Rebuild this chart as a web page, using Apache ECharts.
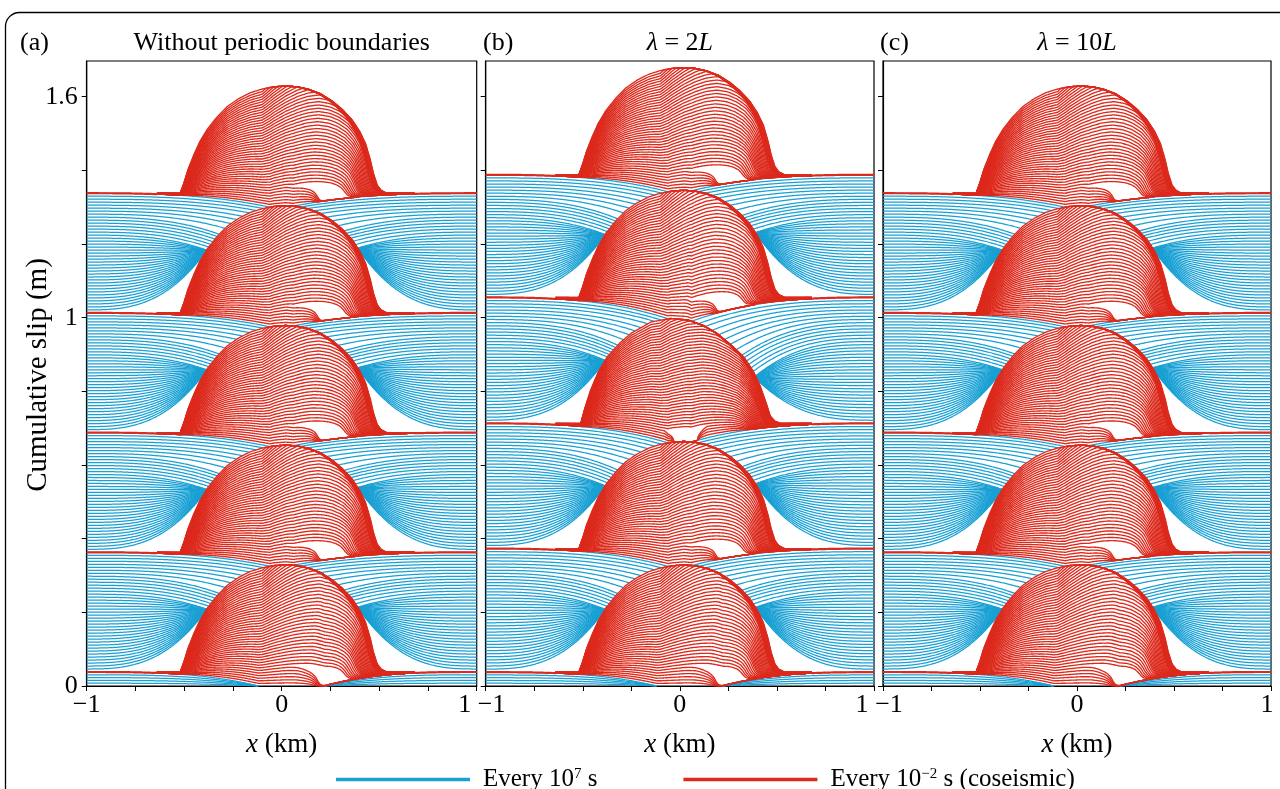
<!DOCTYPE html>
<html><head><meta charset="utf-8">
<script src="https://cdn.jsdelivr.net/npm/echarts@6/dist/echarts.min.js"></script>
<style>html,body{margin:0;padding:0;background:#fff;}#c{width:1280px;height:789px;}</style>
</head><body><div id="c"></div>
<script>
// ---------------- values ----------------
const panelTags = ['(a)', '(b)', '(c)'];
const panelTitles = ['Without periodic boundaries', '{i|λ} = 2{i|L}', '{i|λ} = 10{i|L}'];
const xTickValues = [-1, -0.75, -0.5, -0.25, 0, 0.25, 0.5, 0.75, 1];
const xLabelValues = [-1, 0, 1];
const yTickValues = [0, 0.2, 0.4, 0.6, 0.8, 1.0, 1.2, 1.4, 1.6];
const yLabelValues = [0, 1, 1.6];
// slip (m) of the creeping edges at each earthquake
const levelsA = [0.038, 0.363, 0.688, 1.013, 1.338];
const levelsB = [0.0375, 0.373, 0.713, 1.055, 1.388];
const levelsC = [0.038, 0.363, 0.688, 1.013, 1.338];
// which rupture type each event is
const eventsA = ['std', 'std', 'std', 'std', 'std'];
const eventsB = ['std', 'std', 'sym', 'std', 'std'];
const eventsC = ['std', 'std', 'std', 'std', 'std'];
// final coseismic slip above the edge level (m), along x (km)
const domeStdX = [-0.60,-0.52,-0.50,-0.48,-0.45,-0.42,-0.38,-0.33,-0.28,-0.22,-0.16,-0.10,-0.04,0.02,0.08,0.14,0.20,0.26,0.31,0.36,0.40,0.43,0.455,0.47,0.49,0.51,0.54,0.60];
const domeStdH = [0,0,0.03,0.065,0.105,0.14,0.175,0.208,0.235,0.257,0.273,0.283,0.289,0.291,0.289,0.282,0.27,0.25,0.228,0.2,0.168,0.135,0.09,0.055,0.022,0.008,0,0];
const domeSymX = [-0.60,-0.51,-0.49,-0.46,-0.42,-0.375,-0.31,-0.25,-0.15,-0.05,0.04,0.12,0.19,0.26,0.33,0.38,0.415,0.445,0.466,0.49,0.52,0.60];
const domeSymH = [0,0,0.04,0.09,0.14,0.18,0.218,0.245,0.275,0.285,0.281,0.266,0.245,0.215,0.18,0.14,0.10,0.055,0.02,0.006,0,0];
// position (km) of the right rupture front through each event (t = fraction of the event)
const frontStdT = [0, 0.15, 0.151, 0.3, 0.6, 1.0];
const frontStdX = [0.18, 0.21, 0.36, 0.42, 0.49, 0.52];
const frontSymT = [0, 0.5, 1.0];
const frontSymX = [0.36, 0.46, 0.50];
// other rupture settings per type: pivot of the front, flank foot, early completion of the right side, central gap (sym)
const ruptStd = { pivot: 0.0, flank: 0.52, early: 0.6, gateT: 0, gateX: 0, gateW: 0 };
const ruptSym = { pivot: 0.1, flank: 0.50, early: 0.4, gateT: 0.1, gateX: 0.03, gateW: 0.06 };
// where interseismic lines meet the locked patch (fraction of cycle)
const contactF = [0, 0.65, 0.8, 0.9, 1.0];
const contactL = [-0.39, -0.385, -0.32, -0.2, -0.06];
const contactR = [0.40, 0.39, 0.32, 0.2, 0.06];
const initContactL = -0.12, initContactR = 0.22;
const nBlue = 40, nRed = 45, nInit = 5;

// ---------------- helpers ----------------
function lookup(xa, ya, x) {
  const n = xa.length;
  if (x <= xa[0]) return ya[0];
  if (x >= xa[n - 1]) return ya[n - 1];
  let i = 1; while (xa[i] < x) i++;
  const t = (x - xa[i - 1]) / (xa[i] - xa[i - 1]);
  return ya[i - 1] + t * (ya[i] - ya[i - 1]);
}
const types = {
  std: Object.assign({ x: domeStdX, h: domeStdH, ft: frontStdT, fx: frontStdX }, ruptStd),
  sym: Object.assign({ x: domeSymX, h: domeSymH, ft: frontSymT, fx: frontSymX }, ruptSym)
};
const STEP = 0.005;
function range(a, b) { const r = []; const n = Math.round((b - a) / STEP); for (let i = 0; i <= n; i++) r.push(a + i * STEP); return r; }
const xAll = range(-1, 1);

function interProfile(x, f, c) {
  const E = c.E0 + f * (c.E1 - c.E0);
  if (x <= c.xcL) {
    const u = (x + 1) / (c.xcL + 1);
    const C = c.F(c.xcL);
    return Math.max(E + (C - E) * Math.pow(u, c.p), c.F(x));
  } else if (x >= c.xcR) {
    const u = (1 - x) / (1 - c.xcR);
    const C = c.F(c.xcR);
    return Math.max(E + (C - E) * Math.pow(u, c.p), c.F(x));
  }
  return c.F(x);
}

function buildPanel(levels, events) {
  const blue = [], red = [], redEdge = [];
  const Ffun = events.map((name, k) => (x => levels[k] + lookup(types[name].x, types[name].h, x)));
  const cycleCtx = (k, f) => {
    if (k < 0) return { F: () => 0, E0: 0, E1: levels[0], xcL: initContactL, xcR: initContactR, p: 3 };
    return { F: Ffun[k], E0: levels[k], E1: levels[k + 1],
      xcL: lookup(contactF, contactL, f), xcR: lookup(contactF, contactR, f), p: 2.8 };
  };
  for (let k = -1; k < levels.length - 1; k++) {
    const n = k < 0 ? nInit : nBlue;
    for (let j = 1; j <= n; j++) {
      const f = j / n; const c = cycleCtx(k, f);
      const left = [], right = [];
      for (const x of xAll) {
        if (x <= c.xcL + 1e-9) left.push([x, interProfile(x, f, c)]);
        if (x >= c.xcR - 1e-9) right.push([x, interProfile(x, f, c)]);
      }
      left.push([c.xcL, c.F(c.xcL)]);
      right.unshift([c.xcR, c.F(c.xcR)]);
      blue.push({ coords: left }, { coords: right });
    }
  }
  const xMid = range(-0.64, 0.68);
  for (let k = 0; k < levels.length; k++) {
    const cPrev = cycleCtx(k - 1, 1);
    const T = types[events[k]];
    const F = Ffun[k];
    const P = x => interProfile(x, 1, cPrev);
    const Dfun = x => Math.max(0, F(x) - P(x));
    const speed = x => 1 + T.early * Math.min(1, Math.max(0, (x + 0.1) / 0.5));
    for (let i = 1; i <= nRed; i++) {
      const tau = i / nRed;
      const xf = lookup(T.ft, T.fx, tau);
      const gated = tau < T.gateT;
      const pts = xMid.map(x => {
        let inc;
        if (i === nRed) inc = Dfun(x);
        else {
          const xm = x > T.pivot ? T.pivot + (x - T.pivot) * (T.flank - T.pivot) / (xf - T.pivot) : x;
          inc = Math.min(Dfun(x), Math.min(1, tau * speed(x)) * Dfun(xm));
          if (gated) inc *= Math.sqrt(Math.min(1, Math.max(0, (Math.abs(x - T.gateX) - T.gateW) / 0.05)));
        }
        return [x, P(x) + inc];
      });
      red.push({ coords: pts });
    }
    redEdge.push({ coords: range(-1, -0.64).map(x => [x, P(x)]) });
    redEdge.push({ coords: range(0.68, 1).map(x => [x, P(x)]) });
  }
  return { blue, red, redEdge };
}

const BLUE = '#19a0d4', RED = '#dc2a1d';
const FONT = '"Liberation Serif", "Times New Roman", serif';
const gridsPos = [
  { left: 86.7, top: 61, width: 390, height: 625 },
  { left: 485.7, top: 61, width: 388.3, height: 625 },
  { left: 883, top: 61, width: 388, height: 625 }
];
// horizontal nudges (px) of the end tick labels, as in the figure
const minLabelShift = [0, 6, 6];
const maxLabelShift = [-12, -12, -4];
const panelData = [buildPanel(levelsA, eventsA), buildPanel(levelsB, eventsB), buildPanel(levelsC, eventsC)];

const grid = gridsPos.map(g => Object.assign({ show: true, borderColor: '#000', borderWidth: 1.2, backgroundColor: 'transparent' }, g));
const tickFont = { fontFamily: FONT, fontSize: 26, color: '#000' };
const pad = s => [0, s < 0 ? -2 * s : 0, 0, s > 0 ? 2 * s : 0];
const xAxis = gridsPos.map((g, i) => ({
  type: 'value', gridIndex: i, min: -1, max: 1,
  axisLine: { show: true, onZero: false, lineStyle: { color: '#000', width: 1.2 } },
  axisTick: { show: true, inside: false, length: 5, lineStyle: { color: '#000', width: 1 }, customValues: xTickValues },
  axisLabel: { show: true, margin: 6, color: '#000', fontFamily: FONT, fontSize: 26, customValues: xLabelValues,
    formatter: v => (v < 0 ? '{lo|\u22121}' : v > 0 ? '{hi|1}' : '{c|0}'),
    rich: { c: tickFont, lo: Object.assign({ padding: pad(minLabelShift[i]) }, tickFont), hi: Object.assign({ padding: pad(maxLabelShift[i]) }, tickFont) } },
  splitLine: { show: false }
}));
const yAxis = gridsPos.map((g, i) => ({
  type: 'value', gridIndex: i, min: 0, max: 1.697,
  axisLine: { show: true, onZero: false, lineStyle: { color: '#000', width: 1.2 } },
  axisTick: { show: true, inside: false, length: 5, lineStyle: { color: '#000', width: 1 }, customValues: yTickValues },
  axisLabel: { show: i === 0, margin: 9, color: '#000', fontFamily: FONT, fontSize: 26, customValues: yLabelValues,
    formatter: v => String(Math.round(v * 10) / 10) },
  splitLine: { show: false }
}));
const series = [];
panelData.forEach((pd, i) => {
  series.push({ name: 'blue', type: 'lines', coordinateSystem: 'cartesian2d', xAxisIndex: i, yAxisIndex: i,
    polyline: true, silent: true, clip: true, lineStyle: { color: BLUE, width: 1.25, opacity: 1 }, data: pd.blue, z: 2 });
  series.push({ name: 'red', type: 'lines', coordinateSystem: 'cartesian2d', xAxisIndex: i, yAxisIndex: i,
    polyline: true, silent: true, clip: true, lineStyle: { color: RED, width: 1.35, opacity: 1 }, data: pd.red, z: 3 });
  series.push({ name: 'red', type: 'lines', coordinateSystem: 'cartesian2d', xAxisIndex: i, yAxisIndex: i,
    polyline: true, silent: true, clip: true, lineStyle: { color: RED, width: 2.2, opacity: 1 }, data: pd.redEdge, z: 3 });
});

const mkRich = fs => ({ i: { fontStyle: 'italic', fontFamily: FONT, fontSize: fs, color: '#000' } });
const txt = (x, y, text, align, fs, extra) => Object.assign({ type: 'text', x, y, silent: true,
  style: { text, fill: '#000', font: fs + 'px ' + FONT, fontFamily: FONT, fontSize: fs, align: align, verticalAlign: 'middle', rich: mkRich(fs) } }, extra || {});
const centers = gridsPos.map(g => g.left + g.width / 2);
const graphic = [
  { type: 'rect', silent: true, shape: { x: 5.5, y: 12.5, width: 1300, height: 820, r: 14 }, style: { fill: 'none', stroke: '#000', lineWidth: 1.3 } },
  txt(20, 43, panelTags[0], 'left', 26), txt(483, 43, panelTags[1], 'left', 26), txt(880, 43, panelTags[2], 'left', 26),
  txt(centers[0], 43, panelTitles[0], 'center', 26), txt(centers[1], 43, panelTitles[1], 'center', 26), txt(centers[2], 43, panelTitles[2], 'center', 26),
  txt(centers[0], 745, '{i|x} (km)', 'center', 27), txt(centers[1], 745, '{i|x} (km)', 'center', 27), txt(centers[2], 745, '{i|x} (km)', 'center', 27),
  txt(38, 375, 'Cumulative slip (m)', 'center', 29, { rotation: Math.PI / 2 })
];

const chart = echarts.init(document.getElementById('c'), null, { renderer: 'canvas', width: 1280, height: 789 });
chart.setOption({
  animation: false,
  backgroundColor: '#fff',
  grid, xAxis, yAxis, series, graphic,
  legend: {
    data: ['blue', 'red'], left: 331, top: 762, itemWidth: 132, itemHeight: 1.6, itemGap: 86, icon: 'rect',
    selectedMode: false,
    formatter: n => (n === 'blue' ? 'Every 10{s|7} s' : 'Every 10{s|\u22122} s (coseismic)'),
    textStyle: { fontFamily: FONT, fontSize: 25, color: '#000', padding: [0, 0, 0, 9],
      rich: { s: { fontFamily: FONT, fontSize: 15, color: '#000', verticalAlign: 'top', lineHeight: 25 } } }
  }
});
</script></body></html>
